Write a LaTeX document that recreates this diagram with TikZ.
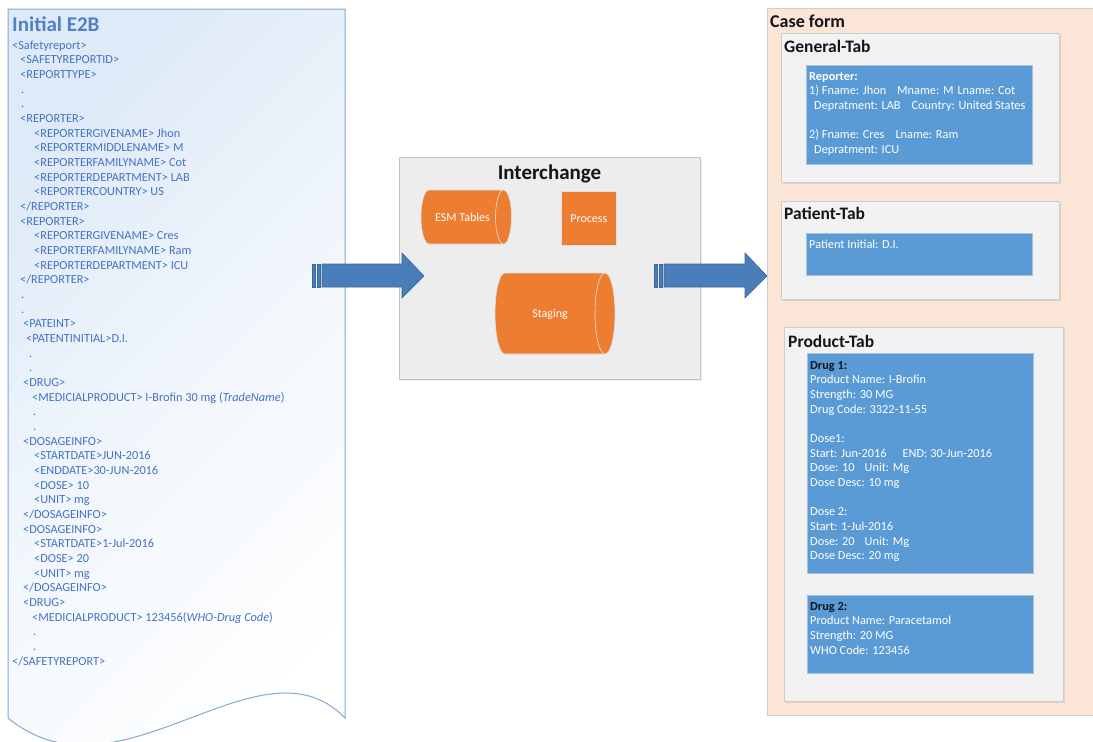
\documentclass[tikz,border=0pt]{standalone}
\usepackage{fontspec}
\setmainfont{Carlito}
\usetikzlibrary{shadows}
\definecolor{docblue}{RGB}{68,114,196}
\definecolor{titleblue}{RGB}{80,128,200}
\definecolor{docborder}{RGB}{130,170,212}
\definecolor{docshade}{RGB}{222,234,247}
\definecolor{icfill}{RGB}{237,237,237}
\definecolor{arrowfill}{RGB}{74,126,187}
\definecolor{arrowedge}{RGB}{60,104,158}
\definecolor{icborder}{RGB}{195,195,195}
\definecolor{orng}{RGB}{237,125,49}
\definecolor{orngedge}{RGB}{225,225,225}
\definecolor{casefill}{RGB}{251,229,214}
\definecolor{caseborder}{RGB}{200,208,222}
\definecolor{tabfill}{RGB}{242,242,242}
\definecolor{tabborder}{RGB}{205,205,205}
\definecolor{boxblue}{RGB}{91,155,213}
\definecolor{boxedge}{RGB}{165,195,225}
\definecolor{titleblack}{RGB}{20,20,25}
\tikzset{
  doctxt/.style={text=docblue, font=\fontsize{12.3}{14.67}\selectfont, inner sep=0pt, anchor=base west},
  tabbox/.style={draw=tabborder, fill=tabfill, line width=0.8pt, inner sep=0pt, anchor=north west,
    drop shadow={opacity=0.18, shadow xshift=1.5pt, shadow yshift=-1.5pt}},
  bluebox/.style={draw=boxedge, fill=boxblue, line width=0.7pt, inner sep=0pt, anchor=north west,
    drop shadow={opacity=0.15, shadow xshift=1pt, shadow yshift=-1pt}},
  boxtxt/.style={text=white, font=\fontsize{12.3}{14.67}\selectfont, align=left, inner sep=0pt, anchor=north west},
  tabtitle/.style={font=\bfseries\fontsize{17.5}{20}\selectfont, text=titleblack, inner sep=0pt, anchor=base west},
  orngshape/.style={fill=orng, draw=orngedge, line width=0.6pt},
  orngtxt/.style={text=white, font=\fontsize{12}{14}\selectfont, inner sep=0pt},
  blockarrow/.style={fill=arrowfill, draw=arrowedge, line width=0.6pt},
}
\newcommand\docline[3]{\node[doctxt] (dl#1) at (#2,{-49-14.67*(#1-1)}) {#3};}
\begin{document}
\begin{tikzpicture}[x=1pt,y=1pt]
\useasboundingbox (0,0) rectangle (1093,-742);
\clip (0,0) rectangle (1093,-742);
\fill[white] (0,0) rectangle (1093,-742);

% ---------- Initial E2B document ----------
\shade[top color=docshade, bottom color=white, middle color=white!60!docshade, shading angle=45]
  (8,-9) -- (345,-9) -- (345,-718)
  .. controls (260,-630) and (120,-810) .. (8,-718) -- cycle;
\draw[docborder, line width=1pt]
  (8,-9) -- (345,-9) -- (345,-718)
  .. controls (260,-630) and (120,-810) .. (8,-718) -- cycle;
\node[anchor=base west, font=\bfseries\fontsize{21}{24}\selectfont, text=titleblue, inner sep=0pt] (e2btitle) at (12,-31.5) {Initial E2B};
\docline{1}{12}{<Safetyreport>}
\docline{2}{20}{<SAFETYREPORTID>}
\docline{3}{20}{<REPORTTYPE>}
\docline{4}{21}{.}
\docline{5}{21}{.}
\docline{6}{20}{<REPORTER>}
\docline{7}{34}{<REPORTERGIVENAME> Jhon}
\docline{8}{34}{<REPORTERMIDDLENAME> M}
\docline{9}{34}{<REPORTERFAMILYNAME> Cot}
\docline{10}{34}{<REPORTERDEPARTMENT> LAB}
\docline{11}{34}{<REPORTERCOUNTRY> US}
\docline{12}{20}{</REPORTER>}
\docline{13}{20}{<REPORTER>}
\docline{14}{34}{<REPORTERGIVENAME> Cres}
\docline{15}{34}{<REPORTERFAMILYNAME> Ram}
\docline{16}{34}{<REPORTERDEPARTMENT> ICU}
\docline{17}{20}{</REPORTER>}
\docline{18}{21}{.}
\docline{19}{21}{.}
\docline{20}{23}{<PATEINT>}
\docline{21}{26}{<PATENTINITIAL>D.I.}
\docline{22}{29}{.}
\docline{23}{29}{.}
\docline{24}{23}{<DRUG>}
\docline{25}{32}{<MEDICIALPRODUCT> I-Brofin 30 mg (\textit{TradeName})}
\docline{26}{33}{.}
\docline{27}{33}{.}
\docline{28}{23}{<DOSAGEINFO>}
\docline{29}{34}{<STARTDATE>JUN-2016}
\docline{30}{34}{<ENDDATE>30-JUN-2016}
\docline{31}{34}{<DOSE> 10}
\docline{32}{34}{<UNIT> mg}
\docline{33}{23}{</DOSAGEINFO>}
\docline{34}{23}{<DOSAGEINFO>}
\docline{35}{34}{<STARTDATE>1-Jul-2016}
\docline{36}{34}{<DOSE> 20}
\docline{37}{34}{<UNIT> mg}
\docline{38}{23}{</DOSAGEINFO>}
\docline{39}{23}{<DRUG>}
\docline{40}{32}{<MEDICIALPRODUCT> 123456(\textit{WHO-Drug Code})}
\docline{41}{33}{.}
\docline{42}{33}{.}
\docline{43}{12}{</SAFETYREPORT>}

% ---------- Interchange ----------
\node[draw=icborder, fill=icfill, line width=0.8pt, inner sep=0pt, anchor=north west,
  minimum width=301pt, minimum height=222pt,
  drop shadow={opacity=0.15, shadow xshift=1.5pt, shadow yshift=-1.5pt}] (inter) at (399,-157) {};
\node[anchor=base, font=\bfseries\fontsize{21}{24}\selectfont, text=titleblack, inner sep=0pt] (ictitle) at (549.5,-179.5) {Interchange};
% ESM Tables cylinder
\path[orngshape] (429,-190) -- (503.5,-190)
  arc[start angle=90, end angle=-90, x radius=8, y radius=27]
  -- (429,-244) arc[start angle=270, end angle=90, x radius=8, y radius=27] -- cycle;
\draw[orngedge, line width=0.6pt] (503.5,-190) arc[start angle=90, end angle=270, x radius=8, y radius=27];
\node[orngtxt] (esm) at (462.5,-217) {ESM Tables};
% Process
\node[fill=orng, draw=orngedge, line width=0.6pt, inner sep=0pt, anchor=north west,
  minimum width=55pt, minimum height=54pt, text=white, font=\fontsize{12}{14}\selectfont] (process) at (561,-191) {Process};
% Staging cylinder
\path[orngshape] (505,-273) -- (605,-273)
  arc[start angle=90, end angle=-90, x radius=10, y radius=40.5]
  -- (505,-354) arc[start angle=270, end angle=90, x radius=10, y radius=40.5] -- cycle;
\draw[orngedge, line width=0.6pt] (605,-273) arc[start angle=90, end angle=270, x radius=10, y radius=40.5];
\node[orngtxt] (staging) at (550,-314) {Staging};

% ---------- Case form ----------
\node[draw=caseborder, fill=casefill, line width=0.8pt, inner sep=0pt, anchor=north west,
  minimum width=345pt, minimum height=707pt] (casef) at (767,-8) {};
\node[anchor=base west, font=\bfseries\fontsize{18}{21}\selectfont, text=titleblack, inner sep=0pt] (cftitle) at (770,-27) {Case form};

% General tab
\node[tabbox, minimum width=278pt, minimum height=149pt] (gentab) at (781,-33) {};
\node[tabtitle] (gentitle) at (784,-52) {General-Tab};
\node[bluebox, minimum width=226pt, minimum height=99pt] (repbox) at (806,-65) {};
\node[boxtxt] (reptxt) at ([xshift=3pt,yshift=-5pt]repbox.north west)
  {\rule{0pt}{10pt}\textbf{Reporter:}\\
   1) Fname: Jhon\hspace{11pt}Mname: M\hspace{4pt}Lname: Cot\\
   \hspace*{5pt}Depratment: LAB\hspace{11pt}Country: United States\\[14.67pt]
   2) Fname: Cres\hspace{11pt}Lname: Ram\\
   \hspace*{5pt}Depratment: ICU};

% Patient tab
\node[tabbox, minimum width=278pt, minimum height=98pt] (pattab) at (781,-201) {};
\node[tabtitle] (pattitle) at (784,-219.5) {Patient-Tab};
\node[bluebox, minimum width=226pt, minimum height=42pt] (patbox) at (806,-233) {};
\node[boxtxt] (pattxt) at ([xshift=3pt,yshift=-5pt]patbox.north west) {\rule{0pt}{10pt}Patient Initial: D.I.};

% Product tab
\node[tabbox, minimum width=279pt, minimum height=374pt] (prodtab) at (784,-327) {};
\node[tabtitle] (prodtitle) at (788,-347) {Product-Tab};
\node[bluebox, minimum width=226pt, minimum height=220pt] (drug1) at (807,-353) {};
\node[boxtxt] (drug1txt) at ([xshift=3pt,yshift=-6pt]drug1.north west)
  {\rule{0pt}{10pt}{\color{titleblack}\textbf{Drug 1:}}\\
   Product Name: I-Brofin\\
   Strength: 30 MG\\
   Drug Code: 3322-11-55\\[14.67pt]
   Dose1:\\
   Start: Jun-2016\hspace{16pt}END: 30-Jun-2016\\
   Dose: 10\hspace{10pt}Unit: Mg\\
   Dose Desc: 10 mg\\[14.67pt]
   Dose 2:\\
   Start: 1-Jul-2016\\
   Dose: 20\hspace{10pt}Unit: Mg\\
   Dose Desc: 20 mg};
\node[bluebox, minimum width=226pt, minimum height=78pt] (drug2) at (807,-595) {};
\node[boxtxt] (drug2txt) at ([xshift=3pt,yshift=-5pt]drug2.north west)
  {\rule{0pt}{10pt}{\color{titleblack}\textbf{Drug 2:}}\\
   Product Name: Paracetamol\\
   Strength: 20 MG\\
   WHO Code: 123456};

% ---------- Block arrows ----------
\path[blockarrow] (322,-264) -- (402,-264) -- (402,-253) -- (424,-276) -- (402,-298) -- (402,-287) -- (322,-287) -- cycle;
\path[blockarrow] (312,-264) rectangle (315,-287);
\path[blockarrow] (317,-264) rectangle (320,-287);
\path[blockarrow] (664,-264) -- (745,-264) -- (745,-253) -- (767,-276) -- (745,-298) -- (745,-287) -- (664,-287) -- cycle;
\path[blockarrow] (654,-264) rectangle (657,-287);
\path[blockarrow] (659,-264) rectangle (662,-287);
\end{tikzpicture}
\end{document}
